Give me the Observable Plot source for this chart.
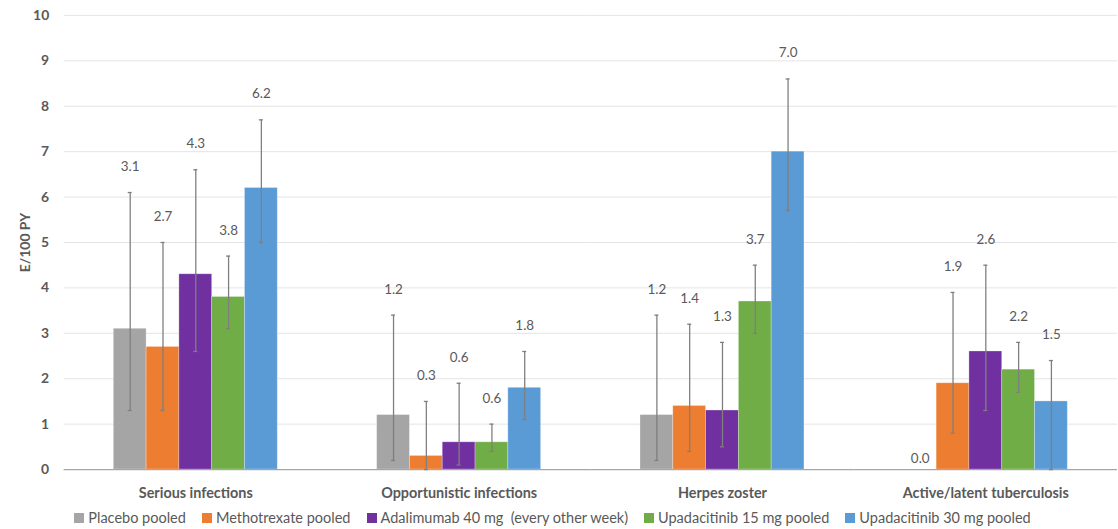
<!DOCTYPE html>
<html>
<head>
<meta charset="utf-8">
<script src="https://cdn.jsdelivr.net/npm/d3@7"></script>
<script src="https://cdn.jsdelivr.net/npm/@observablehq/plot@0.6"></script>
<style>
  html, body { margin: 0; padding: 0; background: #fff; overflow: hidden; width: 1118px; height: 529px; }
  #chart svg { display: block; }
  g[aria-label="y-axis tick label"], g[aria-label="y-axis label"], g[aria-label="fx-axis tick label"] { font-weight: bold; }
  g[aria-label="fx-axis tick label"] { font-size: 14.5px; }
  .legend { display: flex; justify-content: center; gap: 16px; width: 1105px; margin-top: 8px;
            font: 14.5px Lato, sans-serif; color: #595959; line-height: 20px; white-space: pre; }
  .legend .sw { display: inline-block; width: 10px; height: 10px; margin-right: 4px; }
</style>
</head>
<body>
<div id="chart"></div>
<div class="legend" id="legend"></div>
<script>
// Event rates (events per 100 patient-years) with 95% confidence intervals
const categories = ["Serious infections", "Opportunistic infections", "Herpes zoster", "Active/latent tuberculosis"];
const series = [
  "Placebo pooled",
  "Methotrexate pooled",
  "Adalimumab 40 mg  (every other week)",
  "Upadacitinib 15 mg pooled",
  "Upadacitinib 30 mg pooled"
];
const colors = ["#A5A5A5", "#ED7D31", "#7030A0", "#70AD47", "#5B9BD5"];

const placebo = [3.1, 1.2, 1.2, 0.0];
const methotrexate = [2.7, 0.3, 1.4, 1.9];
const adalimumab = [4.3, 0.6, 1.3, 2.6];
const upa15 = [3.8, 0.6, 3.7, 2.2];
const upa30 = [6.2, 1.8, 7.0, 1.5];

const placeboLow = [1.3, 0.2, 0.2, null];
const placeboHigh = [6.1, 3.4, 3.4, null];
const methotrexateLow = [1.3, 0.0, 0.4, 0.8];
const methotrexateHigh = [5.0, 1.5, 3.2, 3.9];
const adalimumabLow = [2.6, 0.1, 0.5, 1.3];
const adalimumabHigh = [6.6, 1.9, 2.8, 4.5];
const upa15Low = [3.1, 0.4, 3.0, 1.7];
const upa15High = [4.7, 1.0, 4.5, 2.8];
const upa30Low = [5.0, 1.1, 5.7, 0.0];
const upa30High = [7.7, 2.6, 8.6, 2.4];

const yTicks = [0, 1, 2, 3, 4, 5, 6, 7, 8, 9, 10];

const values = [placebo, methotrexate, adalimumab, upa15, upa30];
const lows = [placeboLow, methotrexateLow, adalimumabLow, upa15Low, upa30Low];
const highs = [placeboHigh, methotrexateHigh, adalimumabHigh, upa15High, upa30High];

const rows = [];
categories.forEach((c, i) => series.forEach((s, j) => rows.push({
  category: c, series: s, value: values[j][i], lo: lows[j][i], hi: highs[j][i]
})));
const withCI = rows.filter(d => d.hi != null);
const withoutCI = rows.filter(d => d.hi == null);
const fmt = d3.format(".1f");
const errColor = "#7f7f7f";

const chart = Plot.plot({
  width: 1125,
  height: 503,
  marginLeft: 62,
  marginRight: 0,
  marginTop: 15,
  marginBottom: 31,
  style: { fontFamily: "Lato, sans-serif", fontSize: "14px", color: "#595959", background: "white", overflow: "visible" },
  fx: { domain: categories, padding: 0, label: null, axis: "bottom", tickSize: 0, tickPadding: 18 },
  x: { domain: series, axis: null, paddingInner: 0, paddingOuter: 1.5 },
  y: { domain: [0, 10], ticks: yTicks, tickSize: 0, tickPadding: 15, label: "E/100 PY", labelAnchor: "center", labelOffset: 44, labelArrow: "none" },
  color: { domain: series, range: colors },
  marks: [
    Plot.ruleY(yTicks.slice(1), { stroke: "#e4e4e4" }),
    Plot.barY(rows, { fx: "category", x: "series", y: "value", fill: "series", stroke: "white", strokeOpacity: 0.35, strokeWidth: 0.8 }),
    Plot.ruleY([0], { stroke: "#a6a6a6", strokeWidth: 1.3 }),
    Plot.ruleX(withCI, { fx: "category", x: "series", y1: "lo", y2: "hi", stroke: errColor, strokeWidth: 1.3 }),
    Plot.tickY(withCI, { fx: "category", x: "series", y: "lo", insetLeft: 14.5, insetRight: 14.5, stroke: errColor, strokeWidth: 1.3 }),
    Plot.tickY(withCI, { fx: "category", x: "series", y: "hi", insetLeft: 14.5, insetRight: 14.5, stroke: errColor, strokeWidth: 1.3 }),
    Plot.text(withCI, { fx: "category", x: "series", y: "hi", text: d => fmt(d.value), dy: -26, fontSize: 13.5, fill: "#595959" }),
    Plot.text(withoutCI, { fx: "category", x: "series", y: "value", text: d => fmt(d.value), dy: -11, fontSize: 13.5, fill: "#595959" })
  ]
});
document.getElementById("chart").appendChild(chart);

// Legend below the chart
const legend = d3.select("#legend");
series.forEach((s, i) => {
  const item = legend.append("span");
  item.append("span").attr("class", "sw").style("background", colors[i]);
  item.append("span").text(s);
});
</script>
</body>
</html>
